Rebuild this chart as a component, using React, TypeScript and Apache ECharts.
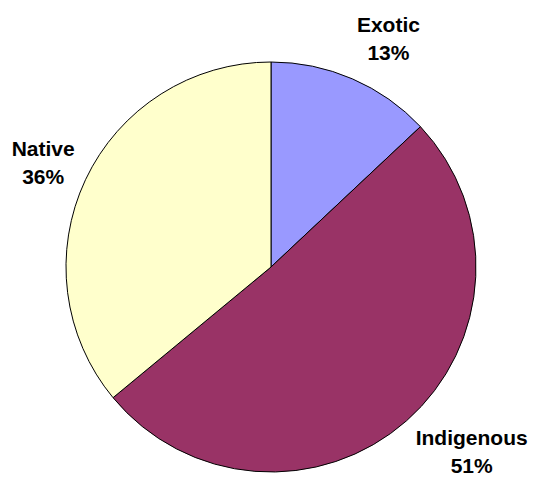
import React, { useEffect, useRef } from "react";
import * as echarts from "echarts";

const categories = ["Exotic", "Indigenous", "Native"];
const values = [13, 51, 36];
const colors = ["#9999FF", "#993366", "#FFFFCC"];
const labelOffsets = [
  [-18, 0],
  [-25, -2],
  [34, 2],
];

export default function App() {
  const ref = useRef<HTMLDivElement>(null);
  useEffect(() => {
    document.body.style.margin = "0";
    const chart = echarts.init(ref.current!, null, { renderer: "svg" });
    chart.setOption({
      animation: false,
      backgroundColor: "#ffffff",
      series: [
        {
          type: "pie",
          center: [271, 267],
          radius: [0, 205],
          startAngle: 90,
          clockwise: true,
          avoidLabelOverlap: false,
          data: categories.map((name, i) => ({
            name,
            value: values[i],
            itemStyle: { color: colors[i] },
          })),
          itemStyle: { borderColor: "#000000", borderWidth: 1 },
          label: {
            show: true,
            position: "outside",
            formatter: "{b}\n{c}%",
            color: "#000000",
            fontFamily: "Liberation Sans, Arial, sans-serif",
            fontWeight: "bold",
            fontSize: 21,
            lineHeight: 28,
          },
          labelLine: { show: false, length: 44, length2: 0 },
          labelLayout: (params: any) => {
            const r = params.labelRect;
            const off = labelOffsets[params.dataIndex] || [0, 0];
            return {
              x: r.x + r.width / 2 + off[0],
              y: r.y + r.height / 2 + off[1],
              align: "center",
              verticalAlign: "middle",
            };
          },
          emphasis: { disabled: true },
        },
      ],
    });
    return () => chart.dispose();
  }, []);
  return <div ref={ref} style={{ width: 534, height: 480 }} />;
}
